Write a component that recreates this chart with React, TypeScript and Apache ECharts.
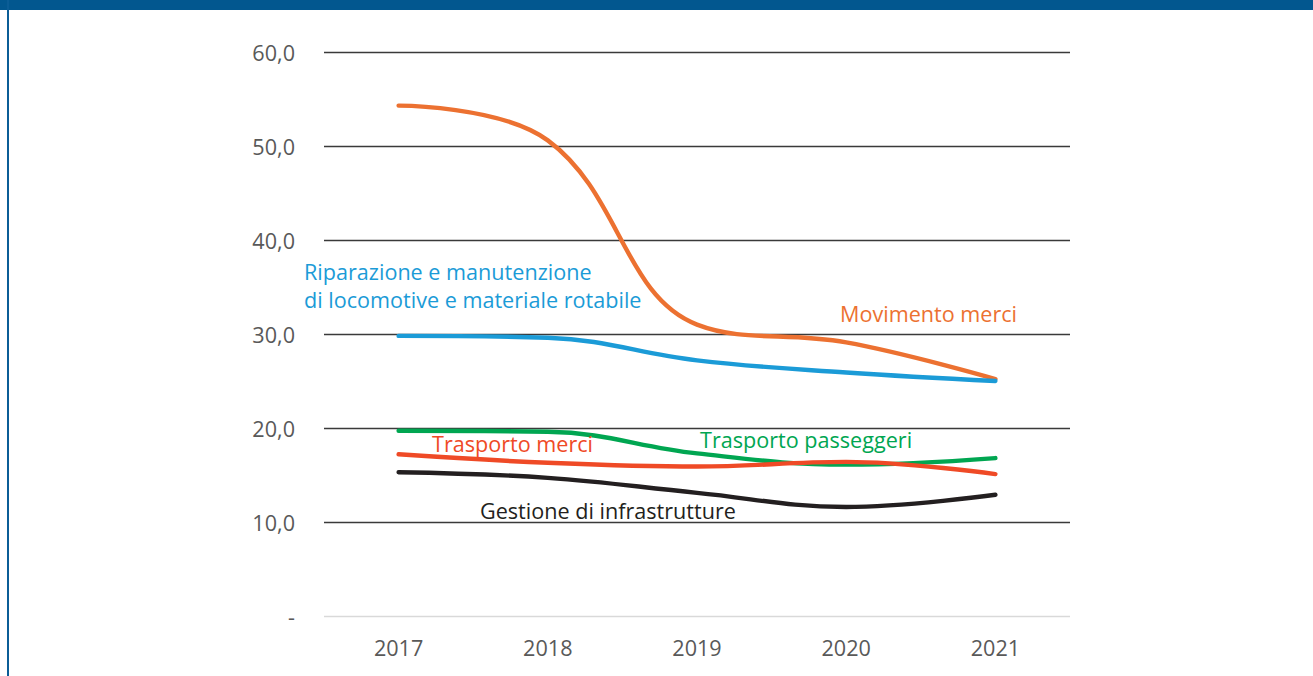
import React, { useEffect, useRef } from "react";
import * as echarts from "echarts";

const years = ["2017", "2018", "2019", "2020", "2021"];
const movimentoMerci = [54.3, 50.6, 31.0, 29.1, 25.2];
const riparazione = [29.8, 29.6, 27.2, 25.9, 25.0];
const trasportoPasseggeri = [19.7, 19.6, 17.3, 16.1, 16.8];
const trasportoMerci = [17.2, 16.3, 15.9, 16.4, 15.1];
const gestione = [15.3, 14.7, 13.1, 11.6, 12.9];

const FONT = "'Open Sans', sans-serif";
const FS = 21.6;

export default function App() {
  const ref = useRef<HTMLDivElement>(null);
  useEffect(() => {
    if (!ref.current) return;
    const chart = echarts.init(ref.current, null, { renderer: "svg" });
    const line = (name: string, data: number[], color: string) => ({
      name,
      type: "line",
      data,
      smooth: 0.4,
      symbol: "none",
      lineStyle: { color, width: 4.4, cap: "round" },
      z: 3,
    });
    const txt = (text: string, x: number, y: number, color: string) => ({
      type: "text",
      x,
      y,
      style: { text, fill: color, font: `${FS}px ${FONT}`, textVerticalAlign: "middle" },
      z: 10,
    });
    chart.setOption({
      animation: false,
      backgroundColor: "#ffffff",
      grid: { left: 324, right: 243, top: 52, bottom: 60 },
      xAxis: {
        type: "category",
        data: years,
        boundaryGap: true,
        axisLine: { show: false },
        axisTick: { show: false },
        axisLabel: { color: "#595959", fontSize: FS, fontFamily: FONT, margin: 20 },
      },
      yAxis: {
        type: "value",
        min: 0,
        max: 60,
        interval: 10,
        axisLine: { show: false },
        axisTick: { show: false },
        axisLabel: {
          color: "#595959",
          fontSize: FS,
          fontFamily: FONT,
          margin: 29,
          formatter: (v: number) => (v === 0 ? "-" : v.toFixed(1).replace(".", ",")),
        },
        splitLine: {
          lineStyle: {
            color: ["#d9d9d9", "#3a3a3a", "#3a3a3a", "#3a3a3a", "#3a3a3a", "#3a3a3a", "#3a3a3a"],
            width: 1.3,
          },
        },
      },
      series: [
        line("Movimento merci", movimentoMerci, "#ec7131"),
        line("Riparazione", riparazione, "#1b9bd7"),
        line("Trasporto passeggeri", trasportoPasseggeri, "#00a651"),
        line("Trasporto merci", trasportoMerci, "#ef4a26"),
        line("Gestione di infrastrutture", gestione, "#231f20"),
      ],
      graphic: [
        { type: "rect", shape: { x: 0, y: 0, width: 1313, height: 10 }, style: { fill: "#02578f" }, z: 20 },
        { type: "rect", shape: { x: 7, y: 0, width: 2, height: 676 }, style: { fill: "#0b5d96" }, z: 20 },
        txt("Riparazione e manutenzione", 304, 271, "#1b9bd7"),
        txt("di locomotive e materiale rotabile", 304, 299, "#1b9bd7"),
        txt("Movimento merci", 840, 313, "#ec7131"),
        txt("Trasporto passeggeri", 700, 439, "#00a651"),
        txt("Trasporto merci", 432, 443, "#ef4a26"),
        txt("Gestione di infrastrutture", 480, 510, "#231f20"),
      ],
    });
    return () => chart.dispose();
  }, []);
  return (
    <div
      ref={ref}
      style={{ position: "fixed", left: 0, top: 0, width: 1313, height: 676, background: "#fff" }}
    />
  );
}
